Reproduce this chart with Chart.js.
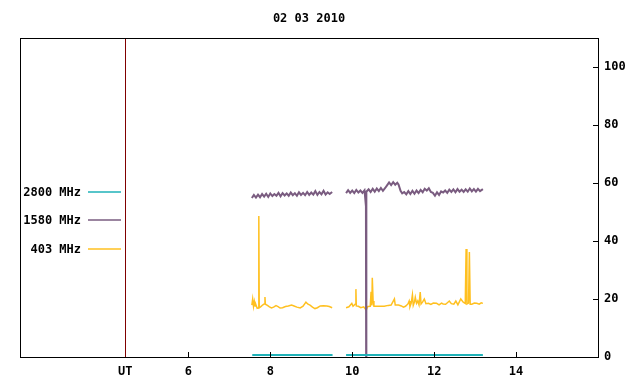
<!DOCTYPE html>
<html>
<head>
<meta charset="utf-8">
<script src="https://cdn.jsdelivr.net/npm/chart.js@4/dist/chart.umd.min.js"></script>
<style>
  html, body { margin: 0; padding: 0; background: #fff; }
  #wrap { width: 640px; height: 384px; }
</style>
</head>
<body>
<div id="wrap"><canvas id="radio" width="640" height="384"></canvas></div>
<script>
const titleText = '02 03 2010';

// bottom axis ticks (hours UT), first one is the UT marker
const xTickHours = [4.46, 6, 8, 10, 12, 14];
const utHour = 4.46;
const yTickValues = [0, 20, 40, 60, 80, 100];

// 2800 MHz - sits on the floor
const hours2800 = [7.56, 9.52, null, 9.85, 13.19];
const flux2800  = [0.7, 0.7, null, 0.7, 0.7];

// 1580 MHz
const hours1580 = [
  7.55, 7.60, 7.65, 7.70, 7.75, 7.80, 7.85, 7.90, 7.95, 8.00,
  8.05, 8.10, 8.15, 8.20, 8.25, 8.30, 8.35, 8.40, 8.45, 8.50,
  8.55, 8.60, 8.65, 8.70, 8.75, 8.80, 8.85, 8.90, 8.95, 9.00,
  9.05, 9.10, 9.15, 9.20, 9.25, 9.30, 9.35, 9.40, 9.45, 9.51,
  null,
  9.85, 9.90, 9.95, 10.00, 10.05, 10.10, 10.15, 10.20, 10.25, 10.30,
  10.335, 10.34, 10.345, 10.40, 10.45, 10.50, 10.55, 10.60, 10.65, 10.70,
  10.75, 10.80, 10.85, 10.90, 10.95, 11.00, 11.05, 11.10, 11.13, 11.18,
  11.22, 11.27, 11.32, 11.37, 11.42, 11.47, 11.52, 11.57, 11.62, 11.67,
  11.72, 11.77, 11.82, 11.87, 11.92, 11.97, 12.02, 12.07, 12.12, 12.17,
  12.22, 12.27, 12.32, 12.37, 12.42, 12.47, 12.52, 12.57, 12.62, 12.67,
  12.72, 12.77, 12.82, 12.87, 12.92, 12.97, 13.02, 13.07, 13.12, 13.19
];
const flux1580 = [
  54.8, 55.9, 55.0, 56.0, 55.1, 56.2, 55.3, 56.3, 55.2, 56.4,
  55.5, 56.2, 55.6, 56.6, 55.4, 56.5, 55.7, 56.4, 55.6, 56.7,
  55.8, 56.5, 55.6, 56.8, 55.9, 56.6, 55.8, 56.9, 55.9, 56.7,
  56.0, 57.2, 55.9, 56.9, 56.1, 57.3, 56.0, 56.8, 56.2, 56.9,
  null,
  56.5, 57.5, 56.6, 57.4, 56.5, 57.6, 56.7, 57.4, 56.6, 57.5,
  52.0, 0, 57.0, 57.8, 56.9, 58.0, 57.0, 58.1, 57.2, 58.3,
  57.3, 58.2, 59.2, 60.2, 59.3, 60.3, 59.4, 60.1, 59.5, 57.3,
  56.4, 56.9, 56.1, 57.2, 56.2, 57.3, 56.3, 57.4, 56.5, 57.6,
  56.8, 58.0, 57.4, 58.2, 56.9, 56.6, 55.6, 56.8, 55.9, 57.1,
  56.7, 57.4, 56.6, 57.7, 56.9, 57.8, 56.8, 57.9, 57.0, 57.7,
  56.9, 57.8, 57.0, 58.1, 57.1, 57.9, 57.0, 58.0, 57.2, 57.9
];

// 403 MHz
const hours403 = [
  7.55, 7.57, 7.59, 7.61, 7.63, 7.65, 7.68, 7.71, 7.72, 7.73,
  7.77, 7.82, 7.86, 7.87, 7.88, 7.93, 7.98, 8.03, 8.08, 8.14,
  8.19, 8.24, 8.30, 8.37, 8.44, 8.52, 8.58, 8.65, 8.73, 8.80,
  8.87, 8.92, 8.97, 9.03, 9.09, 9.15, 9.22, 9.30, 9.38, 9.44, 9.51,
  null,
  9.85, 9.92, 9.99, 10.02, 10.07, 10.09, 10.10, 10.15, 10.21, 10.28,
  10.34, 10.38, 10.44, 10.46, 10.48, 10.49, 10.51, 10.53, 10.65, 10.78,
  10.88, 10.95, 11.03, 11.05, 11.13, 11.20, 11.25, 11.30, 11.36, 11.39,
  11.41, 11.44, 11.47, 11.49, 11.52, 11.54, 11.57, 11.60, 11.63, 11.66,
  11.68, 11.72, 11.76, 11.80, 11.86, 11.92, 11.98, 12.06, 12.12, 12.18,
  12.22, 12.28, 12.33, 12.37, 12.42, 12.48, 12.53, 12.58, 12.65, 12.71,
  12.76, 12.78, 12.80, 12.84, 12.86, 12.88, 12.92, 12.98, 13.04, 13.10,
  13.15, 13.19
];
const flux403 = [
  17.9, 20.0, 17.5, 19.2, 17.6, 18.0, 16.8, 17.0, 48.6, 17.0,
  17.4, 18.0, 18.4, 20.7, 18.2, 17.8, 17.3, 16.9, 17.2, 17.7,
  17.4, 16.9, 17.0, 17.4, 17.6, 17.9, 17.6, 17.2, 16.9, 17.5,
  18.9, 18.2, 17.9, 17.2, 16.7, 17.0, 17.6, 17.7, 17.6, 17.4, 17.0,
  null,
  17.0, 17.3, 18.5, 17.5, 18.2, 23.4, 17.6, 17.5, 17.0, 17.3,
  16.2, 17.4, 17.5, 22.5, 17.8, 27.3, 19.3, 17.5, 17.5, 17.5,
  17.8, 17.9, 20.0, 17.9, 17.9, 17.6, 17.2, 17.5, 18.3, 19.3,
  17.4, 18.6, 21.4, 17.8, 19.0, 20.6, 18.5, 19.3, 18.0, 22.4,
  18.3, 19.0, 20.0, 18.4, 18.5, 18.1, 18.6, 18.5, 18.0, 18.6,
  18.3, 18.2, 18.8, 19.3, 18.4, 18.2, 19.3, 18.0, 20.0, 18.9,
  18.5, 37.2, 18.3, 18.6, 36.2, 18.2, 18.2, 18.6, 18.5, 18.2,
  18.7, 18.5
];

function toPoints(hours, flux) {
  return hours.map((h, i) => h === null ? { x: null, y: null } : { x: h, y: flux[i] });
}

const monoFont = { family: "'DejaVu Sans Mono', monospace", size: 12, weight: 'bold' };

// title, frame, inward ticks, UT line and the legend on the left
const gnuplotBits = {
  id: 'gnuplotBits',
  afterDatasetsDraw(chart) {
    const ctx = chart.ctx;
    const area = chart.chartArea;
    const xs = chart.scales.x;
    const ys = chart.scales.y;
    ctx.save();

    ctx.font = "bold 12px 'DejaVu Sans Mono', monospace";
    ctx.fillStyle = '#000';
    ctx.textAlign = 'center';
    ctx.textBaseline = 'middle';
    ctx.fillText(titleText, (area.left + area.right) / 2, 19);

    // UT line
    const ux = Math.round(xs.getPixelForValue(utHour)) + 0.5;
    ctx.strokeStyle = '#800000';
    ctx.lineWidth = 1;
    ctx.beginPath();
    ctx.moveTo(ux, area.top);
    ctx.lineTo(ux, area.bottom);
    ctx.stroke();

    // frame
    ctx.strokeStyle = '#000';
    ctx.strokeRect(area.left + 0.5, area.top + 0.5, area.right - area.left, area.bottom - area.top);

    // inward ticks
    ctx.beginPath();
    xTickHours.forEach(h => {
      if (h === utHour) return;
      const px = Math.round(xs.getPixelForValue(h)) + 0.5;
      ctx.moveTo(px, area.bottom);
      ctx.lineTo(px, area.bottom - 5);
    });
    yTickValues.forEach(v => {
      const py = Math.round(ys.getPixelForValue(v)) + 0.5;
      ctx.moveTo(area.right, py);
      ctx.lineTo(area.right - 5, py);
    });
    ctx.stroke();

    // legend
    ctx.textAlign = 'right';
    chart.data.datasets.forEach((ds, i) => {
      const y = 191.5 + i * 28.5;
      ctx.fillText(ds.label, 81, y + 1);
      ctx.strokeStyle = ds.borderColor;
      ctx.lineWidth = 1.5;
      ctx.beginPath();
      ctx.moveTo(88, Math.round(y));
      ctx.lineTo(121, Math.round(y));
      ctx.stroke();
    });
    ctx.restore();
  }
};

new Chart(document.getElementById('radio'), {
  type: 'line',
  data: {
    datasets: [
      { label: '2800 MHz', data: toPoints(hours2800, flux2800), borderColor: '#1fb2b8', borderWidth: 2 },
      { label: '1580 MHz', data: toPoints(hours1580, flux1580), borderColor: '#7a5c80', borderWidth: 2 },
      { label: '403 MHz', data: toPoints(hours403, flux403), borderColor: '#ffc020', borderWidth: 1.5 }
    ]
  },
  options: {
    responsive: false,
    animation: false,
    spanGaps: false,
    elements: { point: { radius: 0 }, line: { tension: 0 } },
    layout: { padding: { left: 20, right: 0, top: 38, bottom: 0 } },
    plugins: {
      legend: { display: false },
      tooltip: { enabled: false },
      title: { display: false }
    },
    scales: {
      x: {
        type: 'linear',
        min: 1.89,
        max: 16,
        grid: { display: false, drawTicks: false },
        border: { display: false },
        afterBuildTicks: s => { s.ticks = xTickHours.map(v => ({ value: v })); },
        afterFit: s => { s.height = 27; },
        ticks: {
          color: '#000',
          font: monoFont,
          padding: 8,
          maxRotation: 0,
          autoSkip: false,
          callback: v => v === utHour ? 'UT' : String(v)
        }
      },
      y: {
        position: 'right',
        min: 0,
        max: 110,
        grid: { display: false, drawTicks: false },
        border: { display: false },
        afterBuildTicks: s => { s.ticks = yTickValues.map(v => ({ value: v })); },
        afterFit: s => { s.width = 42; },
        ticks: { color: '#000', font: monoFont, padding: 6 }
      }
    }
  },
  plugins: [gnuplotBits]
});
</script>
</body>
</html>
